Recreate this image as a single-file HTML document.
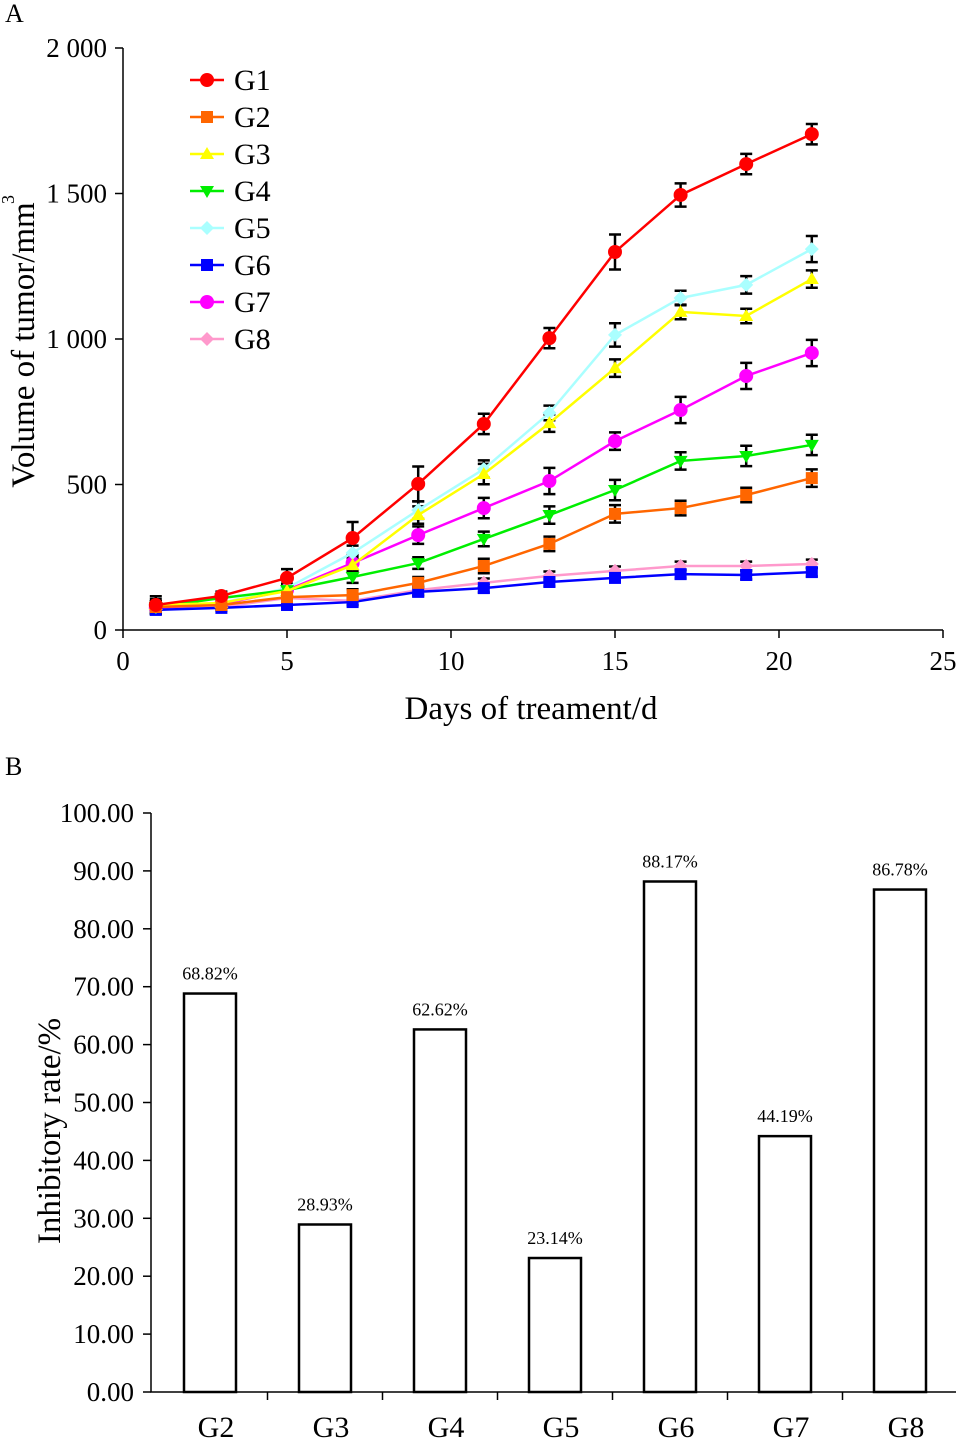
<!DOCTYPE html>
<html><head><meta charset="utf-8">
<style>
html,body{margin:0;padding:0;background:#fff;}
svg{display:block;font-family:"Liberation Serif",serif;}
</style></head>
<body>
<svg id="chart" width="956" height="1440" viewBox="0 0 956 1440" xmlns="http://www.w3.org/2000/svg"></svg>
<script>
// ---- Panel A data ----
const days = [1,3,5,7,9,11,13,15,17,19,21];
const groupNames = ["G1","G2","G3","G4","G5","G6","G7","G8"];
const g1 = [86,117,179,316,502,708,1003,1299,1495,1601,1704];
const g2 = [79,86,113,120,162,220,296,399,419,464,522];
const g3 = [86,93,134,223,395,536,711,900,1093,1079,1206];
const g4 = [79,110,137,182,230,313,395,481,581,598,636];
const g5 = [79,93,144,265,412,553,746,1014,1141,1186,1309];
const g6 = [69,76,86,96,131,144,165,179,192,189,199];
const g7 = [76,89,137,230,326,419,512,649,756,873,952];
const g8 = [76,79,110,100,137,162,186,203,220,220,227];
const e1 = [30,15,30,55,60,35,35,60,40,35,35];
const e2 = [20,15,15,20,20,25,25,30,25,25,30];
const e3 = [20,15,20,25,30,35,30,30,25,25,30];
const e4 = [20,15,15,20,20,25,30,35,30,35,35];
const e5 = [20,15,15,25,30,30,25,40,25,30,45];
const e6 = [15,10,10,10,15,15,15,15,15,15,15];
const e7 = [20,15,15,25,30,35,45,30,45,45,45];
const e8 = [15,10,10,15,15,15,15,15,15,15,15];
const xTicksA = [0,5,10,15,20,25];
const yTicksA = [0,500,1000,1500,2000];
const yTickLabelsA = ["0","500","1 000","1 500","2 000"];
// ---- Panel B data ----
const barCats = ["G2","G3","G4","G5","G6","G7","G8"];
const barVals = [68.82,28.93,62.62,23.14,88.17,44.19,86.78];
const yTicksB = [0,10,20,30,40,50,60,70,80,90,100];

const svg = document.getElementById('chart');
const NS = "http://www.w3.org/2000/svg";
function mk(tag, attrs, parent){
  const el = document.createElementNS(NS, tag);
  for (const k in attrs) el.setAttribute(k, attrs[k]);
  (parent||svg).appendChild(el);
  return el;
}
function txt(s, attrs, parent){ const t = mk('text', attrs, parent); t.textContent = s; return t; }

// ===== Panel A =====
const ax = d => 123 + d * 32.8;
const ay = v => 630 - v * 0.291;
const gA = mk('g', {});


const pl = txt("A", {x:5, y:22, 'font-size':26}, gA);


const axA = mk('path', {d:`M${ax(0)},${ay(2000)} V${ay(0)} H${ax(25)}`, stroke:'#000', 'stroke-width':1.5, fill:'none'}, gA);


yTicksA.forEach((v,i)=>{
  mk('line',{x1:ax(0)-8,x2:ax(0),y1:ay(v),y2:ay(v),stroke:'#000','stroke-width':1.5},gA);
  const t = txt(yTickLabelsA[i],{x:107,y:ay(v)+9,'font-size':27,'text-anchor':'end'},gA);
  
  
});
xTicksA.forEach(v=>{
  mk('line',{x1:ax(v),x2:ax(v),y1:ay(0),y2:ay(0)+8,stroke:'#000','stroke-width':1.5},gA);
  const t = txt(String(v),{x:ax(v),y:670,'font-size':27,'text-anchor':'middle'},gA);
  
  
});
const xt = txt("Days of treament/d",{x:531,y:719,'font-size':33,'text-anchor':'middle'},gA);


const yt = txt("Volume of tumor/mm",{x:0,y:0,'font-size':33,'text-anchor':'middle',transform:'translate(34,345) rotate(-90)'},gA);


txt("3",{x:0,y:0,'font-size':18,transform:'translate(14,204) rotate(-90)'},gA);

const series = [g1,g2,g3,g4,g5,g6,g7,g8];
const errs = [e1,e2,e3,e4,e5,e6,e7,e8];
const colors = ["#ff0000","#ff6600","#ffff00","#00ee00","#aaffff","#0000ff","#ff00ff","#ff99cc"];
const shapes = ["circle","square","tri","tridown","diamond","square","circle","diamond"];
function marker(shape,x,y,c,parent){
  const s=7;
  if(shape==='circle') return mk('circle',{cx:x,cy:y,r:7,fill:c},parent);
  if(shape==='square') return mk('rect',{x:x-6,y:y-6,width:12,height:12,fill:c},parent);
  if(shape==='tri') return mk('polygon',{points:`${x},${y-s} ${x+s},${y+5} ${x-s},${y+5}`,fill:c},parent);
  if(shape==='tridown') return mk('polygon',{points:`${x},${y+s} ${x+s},${y-5} ${x-s},${y-5}`,fill:c},parent);
  return mk('polygon',{points:`${x},${y-s} ${x+s},${y} ${x},${y+s} ${x-s},${y}`,fill:c},parent);
}
series.forEach((vals,si)=>{
  const g = mk('g',{},gA);
  
  
  vals.forEach((v,i)=>{
    const x=ax(days[i]), y1=ay(v+errs[si][i]), y2=ay(v-errs[si][i]);
    mk('path',{d:`M${x},${y1} V${y2} M${x-6},${y1} H${x+6} M${x-6},${y2} H${x+6}`,stroke:'#000','stroke-width':2.5,fill:'none'},g);
  });
});
[7,6,5,4,3,2,1,0].forEach(si=>{
  const vals=series[si];
  const g = mk('g',{},gA);
  
  
  const pts = vals.map((v,i)=>`${ax(days[i])},${ay(v)}`).join(' ');
  mk('polyline',{points:pts,fill:'none',stroke:colors[si],'stroke-width':2.5},g);
  vals.forEach((v,i)=>{
    const m = marker(shapes[si],ax(days[i]),ay(v),colors[si],g);
    
    
  });
});
groupNames.forEach((n,i)=>{
  const y = 80 + i*37;
  const g = mk('g',{},gA);
  
  
  mk('line',{x1:190,x2:224,y1:y,y2:y,stroke:colors[i],'stroke-width':2.5},g);
  marker(shapes[i],207,y,colors[i],g);
  txt(n,{x:234,y:y+10,'font-size':30},g);
});

// ===== Panel B =====
const by = v => 1392 - v * 5.79;
const bx = i => 210 + i * 115;
const gB = mk('g',{});


const plb = txt("B",{x:5,y:775,'font-size':26},gB);


const axB = mk('path',{d:`M151,${by(100)} V${by(0)} H956`,stroke:'#000','stroke-width':1.5,fill:'none'},gB);


yTicksB.forEach(v=>{
  mk('line',{x1:143,x2:151,y1:by(v),y2:by(v),stroke:'#000','stroke-width':1.5},gB);
  const t = txt(v.toFixed(2),{x:134,y:by(v)+9,'font-size':27,'text-anchor':'end'},gB);
  
  
});
barCats.forEach((c,i)=>{
  if(i<barCats.length-1) mk('line',{x1:bx(i)+57.5,x2:bx(i)+57.5,y1:by(0),y2:by(0)+8,stroke:'#000','stroke-width':1.5},gB);
  const b = mk('rect',{x:bx(i)-26,y:by(barVals[i]),width:52,height:by(0)-by(barVals[i]),fill:'#fff',stroke:'#000','stroke-width':2.5},gB);
  
  
  const l = txt(barVals[i].toFixed(2)+"%",{x:bx(i),y:by(barVals[i])-14,'font-size':18,'text-anchor':'middle'},gB);
  
  
  const t = txt(c,{x:bx(i)+6,y:1437,'font-size':30,'text-anchor':'middle'},gB);
  
  
});
const ytb = txt("Inhibitory rate/%",{x:0,y:0,'font-size':33,'text-anchor':'middle',transform:'translate(60,1131) rotate(-90)'},gB);


</script>
</body></html>
